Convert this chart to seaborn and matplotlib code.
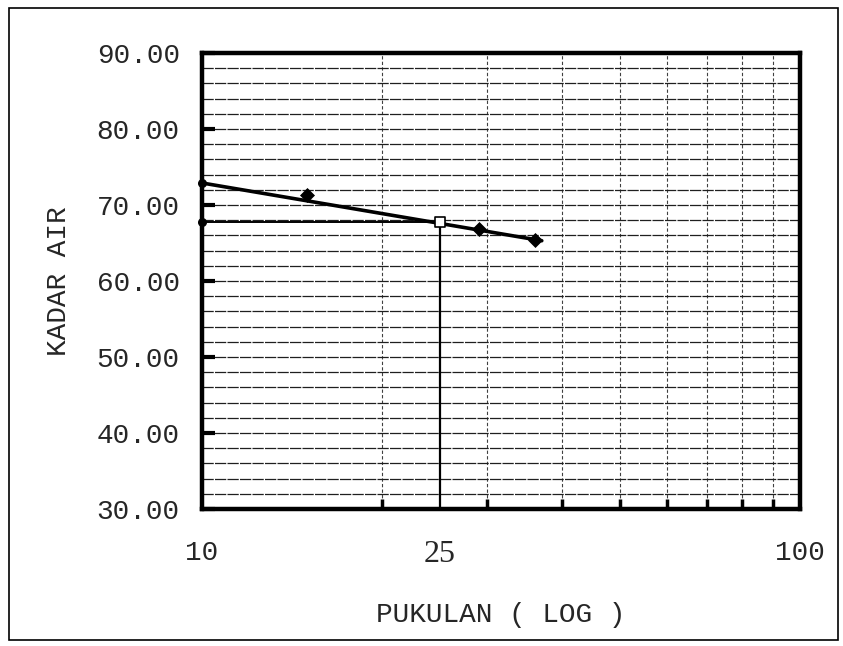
import matplotlib
matplotlib.use("Agg")
import matplotlib.pyplot as plt
from matplotlib.patches import Rectangle
from matplotlib.ticker import FixedLocator, NullFormatter
import pandas as pd
import seaborn as sns

# values (batas cair / liquid limit)
pukulan = [15, 29, 36]
kadar_air = [71.3, 66.8, 65.4]

# fitted line as drawn on the sheet
trend_pukulan = [10, 37]
trend_kadar = [72.9, 65.3]

n_ref = 25
kadar_ref = 67.7

x_ticks = [10, 25, 100]
x_labels = ["10", "25", "100"]
x_minor = [20, 30, 40, 50, 60, 70, 80, 90]
y_ticks = [30, 40, 50, 60, 70, 80, 90]
y_minor = list(range(30, 91, 2))

sns.set_theme(style="white")
plt.rcParams["font.family"] = ["Liberation Mono", "DejaVu Sans Mono"]
plt.rcParams["font.size"] = 20

W, H = 843, 646
fig = plt.figure(figsize=(W / 100, H / 100), dpi=100)
ax = fig.add_axes([202 / W, 1 - 509 / H, (800 - 202) / W, (509 - 53) / H])

pts = pd.DataFrame({"pukulan": pukulan, "kadar": kadar_air})
trend = pd.DataFrame({"pukulan": trend_pukulan, "kadar": trend_kadar})

ax.set_xscale("log")
ax.set_xlim(10, 100)
ax.set_ylim(30, 90)

sns.lineplot(data=trend, x="pukulan", y="kadar", color="black", lw=2.6, ax=ax, zorder=4)
sns.scatterplot(data=pts, x="pukulan", y="kadar", marker="D", s=50, color="black",
                edgecolor="black", ax=ax, zorder=5)

# guide lines for N = 25
ax.plot([10, n_ref], [kadar_ref, kadar_ref], color="black", lw=1.4, zorder=3)
ax.plot([n_ref, n_ref], [30, kadar_ref], color="black", lw=1.6, zorder=3)
ax.scatter([n_ref], [kadar_ref], marker="s", s=60, facecolor="white",
           edgecolor="black", lw=1.2, zorder=6)
ax.scatter([10, 10], [trend_kadar[0], kadar_ref], s=30, color="black",
           zorder=7, clip_on=False)

# ticks and grid
ax.xaxis.set_major_locator(FixedLocator(x_ticks))
ax.set_xticklabels(x_labels)
ax.xaxis.set_minor_locator(FixedLocator(x_minor))
ax.xaxis.set_minor_formatter(NullFormatter())
ax.yaxis.set_major_locator(FixedLocator(y_ticks))
ax.set_yticklabels([f"{v:.2f}" for v in y_ticks])
ax.yaxis.set_minor_locator(FixedLocator(y_minor))

ax.tick_params(axis="x", which="major", length=0, pad=22, labelsize=20)
ax.tick_params(axis="x", which="minor", direction="in", length=7, width=2.5,
               color="black", bottom=True)
ax.tick_params(axis="y", which="major", direction="in", length=9, width=3,
               color="black", left=True, pad=16, labelsize=20)
ax.tick_params(axis="y", which="minor", length=0)

lbl25 = ax.get_xticklabels()[1]
lbl25.set_fontfamily("Liberation Serif")
lbl25.set_fontsize(23)

ax.grid(False)
ax.grid(axis="y", which="both", color="0.12", lw=0.9, ls=(0, (9, 1)))
ax.grid(axis="x", which="minor", color="0.25", lw=0.8, ls=(0, (3, 2)))

for s in ax.spines.values():
    s.set_linewidth(3.2)
    s.set_color("black")

ax.set_xlabel("PUKULAN ( LOG )", fontsize=20, labelpad=24)
ax.set_ylabel("KADAR AIR", fontsize=20, labelpad=18)

fig.patches.append(Rectangle((9 / W, 6 / H), (838 - 9) / W, (638 - 6) / H,
                             transform=fig.transFigure, fill=False,
                             lw=1.2, edgecolor="black"))

fig.savefig("out.png", dpi=100)
